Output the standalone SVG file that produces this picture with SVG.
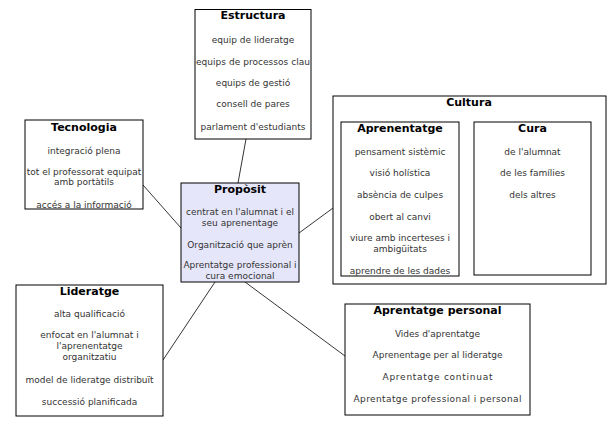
<svg xmlns="http://www.w3.org/2000/svg" width="613" height="427" viewBox="0 0 613 427">
<style>
.box{fill:#fff;stroke:#000;stroke-width:1}
.main{fill:#e6e6fa;stroke:#000;stroke-width:1}
.t{font-family:"DejaVu Sans",sans-serif;font-size:11px;font-weight:bold;fill:#000;text-anchor:middle}
.i{font-family:"DejaVu Sans",sans-serif;font-size:9px;fill:#333;text-anchor:middle}
.c{stroke:#000;stroke-width:0.8;fill:none}
</style>
<rect width="613" height="427" fill="#fff"/>
<g id="connectors">
<line class="c" x1="246" y1="139" x2="238" y2="183"/>
<line class="c" x1="143" y1="185" x2="181" y2="228"/>
<line class="c" x1="299" y1="233" x2="333" y2="208"/>
<line class="c" x1="215" y1="282" x2="163" y2="360"/>
<line class="c" x1="245" y1="282" x2="345" y2="356"/>
</g>
<g id="estructura">
<rect class="box" x="195" y="9.5" width="116" height="129.5"/>
<text class="t" x="253" y="19">Estructura</text>
<text class="i" x="253" y="43">equip de lideratge</text>
<text class="i" x="253" y="65" textLength="114" lengthAdjust="spacing">equips de processos clau</text>
<text class="i" x="253" y="86">equips de gestió</text>
<text class="i" x="253" y="107">consell de pares</text>
<text class="i" x="253" y="130" textLength="105" lengthAdjust="spacing">parlament d'estudiants</text>
</g>
<g id="tecnologia">
<rect class="box" x="25" y="120" width="118" height="89"/>
<text class="t" x="84" y="131">Tecnologia</text>
<text class="i" x="84" y="154">integració plena</text>
<text class="i" x="84" y="175">tot el professorat equipat</text>
<text class="i" x="84" y="185">amb portàtils</text>
<text class="i" x="84" y="208">accés a la informació</text>
</g>
<g id="proposit">
<rect class="main" x="181" y="183" width="118" height="99"/>
<text class="t" x="240" y="193">Propòsit</text>
<text class="i" x="240" y="215">centrat en l'alumnat i el</text>
<text class="i" x="240" y="226">seu aprenentage</text>
<text class="i" x="240" y="248">Organització que aprèn</text>
<text class="i" x="240" y="268">Aprentatge professional i</text>
<text class="i" x="240" y="279">cura emocional</text>
</g>
<g id="cultura">
<rect class="box" x="333" y="96" width="273" height="188"/>
<text class="t" x="469" y="106">Cultura</text>
</g>
<g id="aprenentatge">
<rect class="box" x="341" y="122" width="118" height="154"/>
<text class="t" x="400" y="132">Aprenentatge</text>
<text class="i" x="400" y="155">pensament sistèmic</text>
<text class="i" x="400" y="176">visió holística</text>
<text class="i" x="400" y="198">absència de culpes</text>
<text class="i" x="400" y="220">obert al canvi</text>
<text class="i" x="400" y="241">viure amb incerteses i</text>
<text class="i" x="400" y="252">ambigüitats</text>
<text class="i" x="400" y="274">aprendre de les dades</text>
</g>
<g id="cura">
<rect class="box" x="474" y="122" width="117" height="153"/>
<text class="t" x="532.5" y="132">Cura</text>
<text class="i" x="532.5" y="155">de l'alumnat</text>
<text class="i" x="532.5" y="176">de les famílies</text>
<text class="i" x="532.5" y="198">dels altres</text>
</g>
<g id="lideratge">
<rect class="box" x="16" y="285" width="147" height="131"/>
<text class="t" x="89.5" y="295">Lideratge</text>
<text class="i" x="89.5" y="317">alta qualificació</text>
<text class="i" x="89.5" y="338">enfocat en l'alumnat i</text>
<text class="i" x="89.5" y="349">l'aprenentatge</text>
<text class="i" x="89.5" y="360">organitzatiu</text>
<text class="i" x="89.5" y="383">model de lideratge distribuït</text>
<text class="i" x="89.5" y="405">successió planificada</text>
</g>
<g id="aprentatge-personal">
<rect class="box" x="345" y="304" width="185" height="111"/>
<text class="t" x="437.5" y="314">Aprentatge personal</text>
<text class="i" x="437.5" y="337">Vides d'aprentatge</text>
<text class="i" x="437.5" y="358">Aprenentage per al lideratge</text>
<text class="i" x="437.5" y="380" textLength="110" lengthAdjust="spacing">Aprentatge continuat</text>
<text class="i" x="437.5" y="402" textLength="168" lengthAdjust="spacing">Aprentatge professional i personal</text>
</g>
</svg>
